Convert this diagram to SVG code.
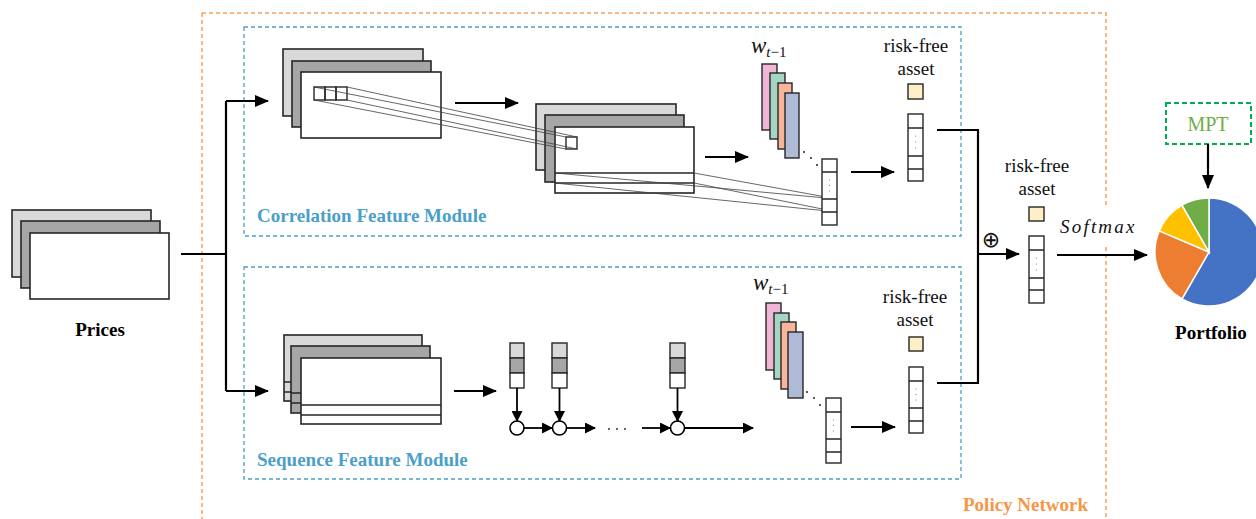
<svg xmlns="http://www.w3.org/2000/svg" width="1256" height="519" viewBox="0 0 1256 519">
<style>
.lg{fill:#d9d9d9;stroke:#262626;stroke-width:1.6}
.dg{fill:#a6a6a6;stroke:#262626;stroke-width:1.6}
.wh{fill:#fff;stroke:#262626;stroke-width:1.6}
.thin{stroke:#262626;stroke-width:1.4;fill:none}
.proj{stroke:#404040;stroke-width:0.8;fill:none}
.conn{stroke:#000;stroke-width:2.2;fill:none}
.conns{stroke:#000;stroke-width:1.8;fill:none}
.blue{fill:none;stroke:#4ba0c8;stroke-width:1.3;stroke-dasharray:4 3}
.orange{fill:none;stroke:#f7a157;stroke-width:1.5;stroke-dasharray:4 3}
.serif{font-family:"Liberation Serif","Times New Roman","DejaVu Serif",serif}
.mod{font-weight:bold;font-size:19px;fill:#4ba0c8}
.lbl{font-size:19px;fill:#111}
.bold{font-weight:bold;font-size:19px;fill:#000}
.math{font-style:italic;fill:#111}
.rf{fill:#fdf0c8;stroke:#262626;stroke-width:1.4}
.dot{fill:#777}
</style>
<defs>
<marker id="ah" viewBox="0 0 14 12" refX="13" refY="6" markerWidth="14" markerHeight="12" markerUnits="userSpaceOnUse" orient="auto"><path d="M0,0 L14,6 L0,12 z" fill="#000"/></marker>
<marker id="as" viewBox="0 0 11 11" refX="10" refY="5.5" markerWidth="11" markerHeight="11" markerUnits="userSpaceOnUse" orient="auto"><path d="M0,0 L11,5.5 L0,11 z" fill="#000"/></marker>
</defs>
<rect width="1256" height="519" fill="#fff"/>

<g id="policy-network">
<path class="orange" d="M202,13 H1106 V207 M1106,247 V519 M202,13 V519"/>
<text class="serif" x="963" y="511" font-weight="bold" font-size="19" fill="#f79646">Policy Network</text>
</g>
<g id="correlation-module">
<rect class="blue" x="244" y="27" width="717" height="209"/>
<text class="serif mod" x="257" y="222">Correlation Feature Module</text>
</g>
<g id="sequence-module">
<rect class="blue" x="244" y="267" width="717" height="212"/>
<text class="serif mod" x="257" y="466">Sequence Feature Module</text>
</g>

<g id="prices">
<rect class="lg" x="12" y="210" width="139" height="67"/>
<rect class="dg" x="21" y="221" width="139" height="67"/>
<rect class="wh" x="30" y="233" width="139" height="66"/>
<text class="serif bold" x="100" y="336" text-anchor="middle">Prices</text>
</g>

<g id="corr-input">
<rect class="lg" x="283" y="49" width="140" height="67"/>
<rect class="dg" x="292" y="61" width="139" height="66"/>
<rect class="wh" x="301" y="72" width="140" height="66"/>
<rect class="thin" x="314" y="87" width="11" height="13"/>
<rect class="thin" x="325" y="87" width="11" height="13"/>
<rect class="thin" x="336" y="87" width="11" height="13"/>
</g>

<g id="corr-conv">
<rect class="lg" x="536" y="104" width="140" height="66"/>
<rect class="dg" x="545" y="115" width="139" height="67"/>
<rect class="wh" x="555" y="127" width="139" height="66"/>
<line class="thin" x1="555" y1="173" x2="694" y2="173"/>
<line class="thin" x1="555" y1="183" x2="694" y2="183"/>
<rect class="wh" x="566" y="137" width="11" height="12" style="stroke-width:1.4"/>
</g>

<g id="projections">
<line class="proj" x1="314" y1="87" x2="566" y2="137"/>
<line class="proj" x1="347" y1="87" x2="577" y2="137"/>
<line class="proj" x1="314" y1="100" x2="566" y2="149"/>
<line class="proj" x1="347" y1="100" x2="577" y2="149"/>
<line class="proj" x1="555" y1="173" x2="837" y2="199"/>
<line class="proj" x1="694" y1="173" x2="837" y2="199"/>
<line class="proj" x1="555" y1="183" x2="837" y2="212"/>
<line class="proj" x1="694" y1="183" x2="837" y2="212"/>
</g>

<g id="corr-weights">
<text class="serif math" x="751" y="53" font-size="23">w<tspan font-size="15" dy="4">t</tspan><tspan font-size="15" font-style="normal">−1</tspan></text>
<rect x="762" y="64" width="15" height="66" fill="#f0b6d6" stroke="#262626" stroke-width="1.4"/>
<rect x="770" y="73" width="15" height="66" fill="#a5d6c4" stroke="#262626" stroke-width="1.4"/>
<rect x="778" y="83" width="14" height="66" fill="#f9b59a" stroke="#262626" stroke-width="1.4"/>
<rect x="785" y="93" width="14" height="65" fill="#aebad6" stroke="#262626" stroke-width="1.4"/>
<circle cx="804" cy="152" r="1" fill="#222"/>
<circle cx="811" cy="158" r="1" fill="#222"/>
<circle cx="817" cy="165" r="1" fill="#222"/>
</g>

<g id="corr-vector">
<rect class="wh" x="822" y="159" width="15" height="66" style="stroke-width:1.4"/>
<path class="thin" d="M822,172 H837 M822,199 H837 M822,212 H837"/>
<circle class="dot" cx="829.5" cy="180" r="0.6"/><circle class="dot" cx="829.5" cy="185.5" r="0.6"/><circle class="dot" cx="829.5" cy="191" r="0.6"/>
</g>

<g id="corr-riskfree">
<text class="serif lbl" x="916" y="52" text-anchor="middle">risk-free</text>
<text class="serif lbl" x="916" y="75" text-anchor="middle">asset</text>
<rect class="rf" x="908" y="84" width="15" height="15"/>
<rect class="wh" x="908" y="114" width="15" height="67" style="stroke-width:1.4"/>
<path class="thin" d="M908,128 H923 M908,156 H923 M908,169 H923"/>
<circle class="dot" cx="915.5" cy="136" r="0.6"/><circle class="dot" cx="915.5" cy="142" r="0.6"/><circle class="dot" cx="915.5" cy="148" r="0.6"/>
</g>

<g id="seq-input">
<rect class="lg" x="284" y="335" width="138" height="66"/>
<path class="thin" d="M284,382 H422 M284,392 H422"/>
<rect class="dg" x="291" y="346" width="139" height="67"/>
<path class="thin" d="M291,393 H430 M291,403 H430"/>
<rect class="wh" x="301" y="358" width="140" height="66"/>
<path class="thin" d="M301,405 H441 M301,415 H441"/>
</g>

<g id="seq-lstm">
<rect class="lg" x="510" y="343" width="14" height="15" style="stroke-width:1.4"/>
<rect class="dg" x="510" y="358" width="14" height="15" style="stroke-width:1.4"/>
<rect class="wh" x="510" y="373" width="14" height="15" style="stroke-width:1.4"/>
<rect class="lg" x="552" y="343" width="15" height="15" style="stroke-width:1.4"/>
<rect class="dg" x="552" y="358" width="15" height="15" style="stroke-width:1.4"/>
<rect class="wh" x="552" y="373" width="15" height="15" style="stroke-width:1.4"/>
<rect class="lg" x="670" y="343" width="15" height="15" style="stroke-width:1.4"/>
<rect class="dg" x="670" y="358" width="15" height="15" style="stroke-width:1.4"/>
<rect class="wh" x="670" y="373" width="15" height="15" style="stroke-width:1.4"/>
<circle cx="517" cy="428" r="7" fill="#fff" stroke="#000" stroke-width="1.6"/>
<circle cx="559.5" cy="428" r="7" fill="#fff" stroke="#000" stroke-width="1.6"/>
<circle cx="677.5" cy="428" r="7" fill="#fff" stroke="#000" stroke-width="1.6"/>
<circle cx="609" cy="429" r="0.9" fill="#222"/><circle cx="617" cy="429" r="0.9" fill="#222"/><circle cx="625" cy="429" r="0.9" fill="#222"/>
</g>

<g id="seq-weights">
<text class="serif math" x="753" y="290" font-size="23">w<tspan font-size="15" dy="4">t</tspan><tspan font-size="15" font-style="normal">−1</tspan></text>
<rect x="766" y="303" width="15" height="67" fill="#f0b6d6" stroke="#262626" stroke-width="1.4"/>
<rect x="774" y="313" width="15" height="66" fill="#a5d6c4" stroke="#262626" stroke-width="1.4"/>
<rect x="781" y="322" width="15" height="67" fill="#f9b59a" stroke="#262626" stroke-width="1.4"/>
<rect x="788" y="332" width="15" height="66" fill="#aebad6" stroke="#262626" stroke-width="1.4"/>
<circle cx="807" cy="392" r="1" fill="#222"/>
<circle cx="814" cy="398" r="1" fill="#222"/>
<circle cx="820" cy="405" r="1" fill="#222"/>
</g>

<g id="seq-vector">
<rect class="wh" x="826" y="398" width="15" height="65" style="stroke-width:1.4"/>
<path class="thin" d="M826,412 H841 M826,439 H841 M826,452 H841"/>
<circle class="dot" cx="833.5" cy="420" r="0.6"/><circle class="dot" cx="833.5" cy="425.5" r="0.6"/><circle class="dot" cx="833.5" cy="431" r="0.6"/>
</g>

<g id="seq-riskfree">
<text class="serif lbl" x="915" y="303" text-anchor="middle">risk-free</text>
<text class="serif lbl" x="915" y="326" text-anchor="middle">asset</text>
<rect class="rf" x="909" y="337" width="14" height="14"/>
<rect class="wh" x="909" y="367" width="14" height="66" style="stroke-width:1.4"/>
<path class="thin" d="M909,381 H923 M909,408 H923 M909,421 H923"/>
<circle class="dot" cx="916" cy="389" r="0.6"/><circle class="dot" cx="916" cy="394.5" r="0.6"/><circle class="dot" cx="916" cy="400" r="0.6"/>
</g>

<g id="combined">
<text class="serif lbl" x="1037" y="172" text-anchor="middle">risk-free</text>
<text class="serif lbl" x="1037" y="195" text-anchor="middle">asset</text>
<rect class="rf" x="1029" y="207" width="15" height="14"/>
<rect class="wh" x="1029" y="236" width="15" height="67" style="stroke-width:1.4"/>
<path class="thin" d="M1029,250 H1044 M1029,278 H1044 M1029,290 H1044"/>
<circle class="dot" cx="1036.5" cy="258" r="0.6"/><circle class="dot" cx="1036.5" cy="264" r="0.6"/><circle class="dot" cx="1036.5" cy="270" r="0.6"/>
<text x="991" y="247" text-anchor="middle" font-family="DejaVu Sans,sans-serif" font-size="22" fill="#111">⊕</text>
<text class="serif math" x="1060" y="233" font-size="19" letter-spacing="2.2">Softmax</text>
</g>

<g id="mpt">
<rect x="1166" y="103" width="85" height="41" fill="none" stroke="#00b050" stroke-width="2" stroke-dasharray="5 3"/>
<text class="serif" x="1208" y="131" text-anchor="middle" font-size="20" fill="#70ad47">MPT</text>
</g>

<g id="portfolio">
<path d="M1209,252 L1209,198 A54,54 0 1,1 1182,298.8 Z" fill="#4472c4" stroke="#fff" stroke-width="1.5"/>
<path d="M1209,252 L1182,298.8 A54,54 0 0,1 1159.3,230.9 Z" fill="#ed7d31" stroke="#fff" stroke-width="1.5"/>
<path d="M1209,252 L1159.3,230.9 A54,54 0 0,1 1182,205.2 Z" fill="#ffc000" stroke="#fff" stroke-width="1.5"/>
<path d="M1209,252 L1182,205.2 A54,54 0 0,1 1209,198 Z" fill="#70ad47" stroke="#fff" stroke-width="1.5"/>
<text class="serif bold" x="1211" y="339" text-anchor="middle">Portfolio</text>
</g>

<g id="connectors">
<path class="conn" d="M181,254 H226"/>
<path class="conn" d="M226,101 V391"/>
<path class="conn" d="M226,101 H268" marker-end="url(#ah)"/>
<path class="conn" d="M226,391 H268" marker-end="url(#ah)"/>
<path class="conn" d="M455,103 H518" marker-end="url(#ah)"/>
<path class="conn" d="M705,157 H748" marker-end="url(#ah)"/>
<path class="conn" d="M851,172 H894" marker-end="url(#ah)"/>
<path class="conn" d="M454,391 H496" marker-end="url(#ah)"/>
<path class="conns" d="M517,388 V421" marker-end="url(#as)"/>
<path class="conns" d="M559.5,388 V421" marker-end="url(#as)"/>
<path class="conns" d="M677.5,388 V421" marker-end="url(#as)"/>
<path class="conns" d="M524,428 H552" marker-end="url(#as)"/>
<path class="conns" d="M566.5,428 H595" marker-end="url(#as)"/>
<path class="conns" d="M642,428 H670" marker-end="url(#as)"/>
<path class="conns" d="M684.5,428 H753" marker-end="url(#as)"/>
<path class="conn" d="M851,427 H895" marker-end="url(#ah)"/>
<path class="conn" d="M937,130 H978 V383 H937"/>
<path class="conn" d="M978,254 H1019" marker-end="url(#ah)"/>
<path class="conn" d="M1057,255 H1147" marker-end="url(#ah)"/>
<path class="conn" d="M1208,144 V188" marker-end="url(#ah)"/>
</g>
</svg>
